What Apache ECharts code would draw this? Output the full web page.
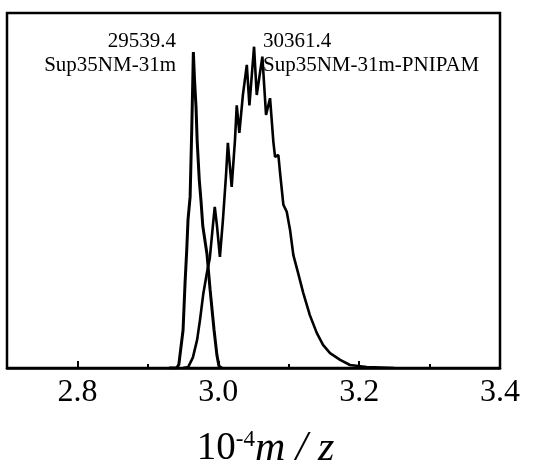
<!DOCTYPE html>
<html><head><meta charset="utf-8">
<script src="https://cdn.jsdelivr.net/npm/echarts@6/dist/echarts.min.js"></script>
<style>html,body{margin:0;padding:0;background:#fff}#c{width:543px;height:464px}</style>
</head><body><div id="c"></div>
<script>
// m/z (x 10^4) and relative intensity
const mzSup35 = [2.930, 2.941, 2.944, 2.950, 2.9528, 2.9552, 2.957, 2.960, 2.9623, 2.9641, 2.9646, 2.9663, 2.9684, 2.970, 2.973, 2.9755, 2.978, 2.981, 2.984, 2.9884, 2.994, 2.998, 3.001, 3.005];
const intSup35 = [0, 0, 1, 10.7, 23.9, 33.2, 41.7, 48.2, 67, 84, 89, 81, 73.5, 64, 53, 47, 40, 36, 32, 22, 10.7, 3.7, 0.5, 0];

const mzPnipam = [2.950, 2.9574, 2.960, 2.964, 2.970, 2.974, 2.9788, 2.984, 2.988, 2.992, 2.995, 2.998, 3.0023, 3.0066, 3.011, 3.0136, 3.019, 3.0237, 3.0262, 3.0299, 3.035, 3.0405, 3.0442, 3.0508, 3.0546, 3.0626, 3.0678, 3.0735, 3.0782, 3.0806, 3.0853, 3.0877, 3.0924, 3.0972, 3.1019, 3.1066, 3.113, 3.1207, 3.130, 3.1398, 3.1487, 3.1587, 3.173, 3.187, 3.2108, 3.25];
const intPnipam = [0, 0.3, 0.8, 3, 8, 13.5, 21, 27, 31, 39.4, 45.4, 40.3, 31.3, 41.7, 54.4, 63.4, 51, 64.2, 74, 66.2, 77, 85.4, 74, 90.5, 76.9, 87.7, 71.3, 76, 63.7, 59.5, 60, 55, 46, 44, 38.9, 31.8, 27, 21.1, 14.9, 9.9, 6.5, 4.2, 2.3, 0.85, 0.3, 0];

const majorTicks = [2.8, 3.0, 3.2, 3.4];
const minorTicks = [2.9, 3.1, 3.3];
const seriesNames = ['Sup35NM-31m', 'Sup35NM-31m-PNIPAM'];
const peakMasses = ['29539.4', '30361.4'];

const FONT = "'Liberation Serif', 'Times New Roman', 'DejaVu Serif', serif";
const pairs = (xs, ys) => xs.map((x, i) => [x, ys[i]]);
const tickAxis = (vals, len) => ({
  type: 'value', min: 2.7, max: 3.4, position: 'bottom', gridIndex: 0,
  axisLine: {show: false},
  axisTick: {show: true, inside: true, length: len, lineStyle: {color: '#000', width: 2}, customValues: vals},
  axisLabel: {show: false},
  splitLine: {show: false}
});

const chart = echarts.init(document.getElementById('c'), null, {renderer: 'canvas'});
chart.setOption({
  animation: false,
  backgroundColor: '#fff',
  grid: {left: 7, top: 13, width: 493, height: 355, containLabel: false, outerBoundsMode: 'none',
         show: true, borderColor: '#000', borderWidth: 2.5, backgroundColor: 'transparent'},
  xAxis: [{
    type: 'value', min: 2.7, max: 3.4, position: 'bottom',
    axisLine: {show: true, lineStyle: {color: '#000', width: 2.5}},
    axisTick: {show: false},
    axisLabel: {customValues: majorTicks, formatter: v => v.toFixed(1), fontSize: 32, color: '#000', fontFamily: FONT, margin: 9},
    splitLine: {show: false},
    name: '{n|10}{s|-4}{i|m / z}',
    nameLocation: 'middle', nameGap: 60,
    nameTextStyle: {
      padding: [0, 0, 0, 24],
      rich: {
        n: {fontSize: 39, fontFamily: FONT, color: '#000', lineHeight: 42},
        s: {fontSize: 23, fontFamily: FONT, color: '#000', verticalAlign: 'top', lineHeight: 42},
        i: {fontSize: 42, fontFamily: FONT, fontStyle: 'italic', color: '#000', lineHeight: 42}
      }
    }
  }, tickAxis(majorTicks, 7), tickAxis(minorTicks, 4)],
  yAxis: {type: 'value', min: 0, max: 100, show: false},
  graphic: [
    {type: 'text', x: 176, y: 29, style: {text: peakMasses[0] + '\n' + seriesNames[0], font: '21px ' + FONT, fill: '#000', align: 'right', lineHeight: 24}},
    {type: 'text', x: 263, y: 29, style: {text: peakMasses[1] + '\n' + seriesNames[1], font: '21px ' + FONT, fill: '#000', align: 'left', lineHeight: 24}}
  ],
  series: [
    {name: seriesNames[0], type: 'line', xAxisIndex: 0, data: pairs(mzSup35, intSup35), showSymbol: false, lineStyle: {color: '#000', width: 3}, z: 3},
    {name: seriesNames[1], type: 'line', xAxisIndex: 0, data: pairs(mzPnipam, intPnipam), showSymbol: false, lineStyle: {color: '#000', width: 2.6}, z: 3}
  ]
});
</script></body></html>
